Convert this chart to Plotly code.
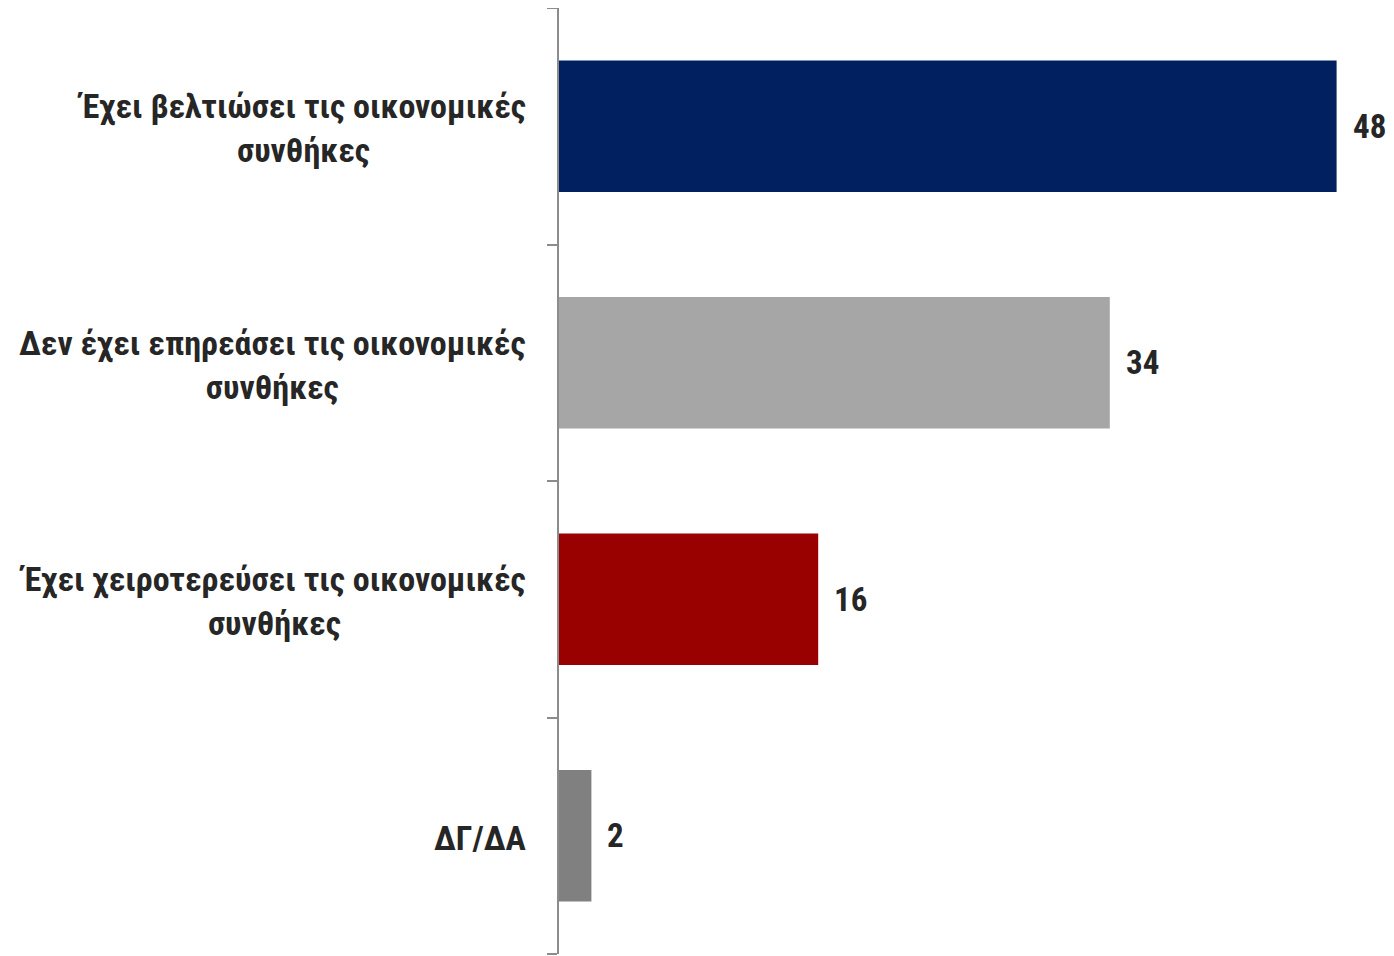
import plotly.graph_objects as go

categories = [
    "Έχει βελτιώσει τις οικονομικές<br>συνθήκες",
    "Δεν έχει επηρεάσει τις οικονομικές<br>συνθήκες",
    "Έχει χειροτερεύσει τις οικονομικές<br>συνθήκες",
    "ΔΓ/ΔΑ",
]
values = [48, 34, 16, 2]
colors = ["#002060", "#A6A6A6", "#990000", "#808080"]

FONT = "Liberation Sans Narrow, Arial Narrow, Roboto Condensed, Liberation Sans, sans-serif"

fig = go.Figure(
    go.Bar(
        x=values,
        y=list(range(len(categories))),
        orientation="h",
        marker=dict(color=colors, line=dict(width=0)),
        width=0.555,
        hoverinfo="skip",
    )
)

annotations = []
for i, (c, v) in enumerate(zip(categories, values)):
    annotations.append(dict(
        x=v, y=i, xref="x", yref="y", text=f"<b>{v}</b>", showarrow=False,
        xanchor="left", xshift=14, font=dict(family=FONT, size=33, color="#262626"),
    ))
    annotations.append(dict(
        x=0, y=i, xref="paper", yref="y", text=f"<b>{c}</b>", showarrow=False,
        xanchor="right", xshift=-31, yshift=-2, align="center",
        font=dict(family=FONT, size=34, color="#262626"),
    ))

fig.update_layout(
    width=1386, height=956,
    margin=dict(l=551, r=25, t=0, b=10),
    plot_bgcolor="white", paper_bgcolor="white",
    showlegend=False,
    annotations=annotations,
    xaxis=dict(range=[0, 50], visible=False),
    yaxis=dict(
        range=[3.5, -0.5],
        tickmode="array", tickvals=[-0.5, 0.5, 1.5, 2.5, 3.5],
        showticklabels=False,
        ticks="outside", ticklen=10, tickwidth=2, tickcolor="#8C8C8C",
        showline=True, linecolor="#8C8C8C", linewidth=2,
        showgrid=False, zeroline=False,
    ),
)

fig.write_html("out.html")
